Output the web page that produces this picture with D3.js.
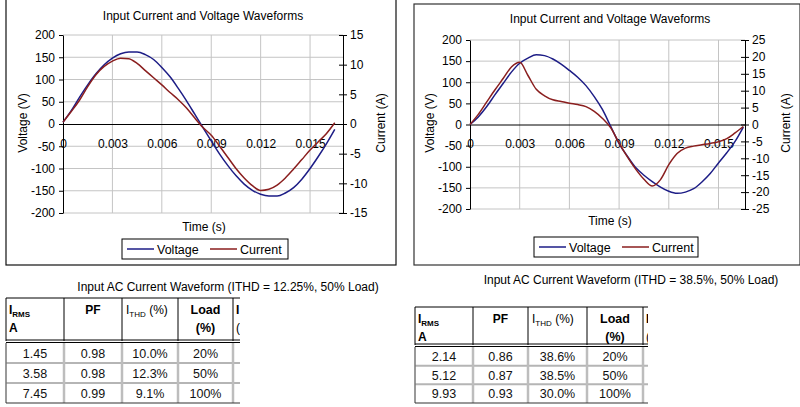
<!DOCTYPE html>
<html>
<head>
<meta charset="utf-8">
<script src="https://cdn.jsdelivr.net/npm/d3@7/dist/d3.min.js"></script>
<style>
  body { margin: 0; background: #fff; }
  svg { font-family: "Liberation Sans", Arial, sans-serif; }
  .tick text { font-size: 12px; fill: #000; }
</style>
</head>
<body>
<svg id="page" width="800" height="407"></svg>
<script>

const timeTicks = [0, 0.003, 0.006, 0.009, 0.012, 0.015]
const voltTicks = [-200, -150, -100, -50, 0, 50, 100, 150, 200]
const currTicksA = [-15, -10, -5, 0, 5, 10, 15]
const currTicksB = [-25, -20, -15, -10, -5, 0, 5, 10, 15, 20, 25]

const timeA = [0, 0.0005, 0.001, 0.0015, 0.002, 0.0025, 0.003, 0.0035, 0.004, 0.0045, 0.005, 0.0055,
  0.006, 0.0065, 0.007, 0.0075, 0.008, 0.0085, 0.009, 0.0095, 0.01, 0.0105, 0.011, 0.0115,
  0.012, 0.0125, 0.013, 0.0135, 0.014, 0.0145, 0.015, 0.0155, 0.016, 0.0165]
const voltageA = [4, 30, 60, 88, 113, 133, 148, 158, 162, 162, 156, 145,
  127, 106, 80, 52, 22, -8, -38, -67, -93, -116, -135, -149,
  -158, -162, -162, -155, -143, -124, -100, -73, -44, -12]
const currentA = [0.3, 2.1, 4.0, 6.3, 8.3, 9.7, 10.6, 11.1, 11.0, 10.2, 9.0, 7.8,
  6.6, 5.3, 4.1, 2.7, 1.0, -0.6, -1.9, -3.7, -5.6, -7.5, -9.1, -10.4,
  -11.2, -11.0, -10.3, -9.1, -7.6, -6.0, -4.4, -3.0, -1.6, 0.2]

const timeB = [0, 0.0005, 0.001, 0.0015, 0.002, 0.0025, 0.003, 0.0035, 0.004, 0.0045, 0.005, 0.0055,
  0.006, 0.0065, 0.007, 0.0075, 0.008, 0.0085, 0.009, 0.0095, 0.01, 0.0105, 0.011, 0.0115,
  0.012, 0.0125, 0.013, 0.0135, 0.014, 0.0145, 0.015, 0.0155, 0.016, 0.0165]
const voltageB = [0, 18, 42, 70, 97, 124, 145, 157, 165, 163, 155, 143,
  128, 112, 92, 66, 35, -5, -45, -75, -102, -120, -135, -148,
  -158, -163, -160, -152, -136, -116, -91, -67, -40, -6]
const currentB = [0, 3.0, 6.6, 10.2, 13.6, 17.0, 18.4, 14.5, 10.4, 8.5, 7.3, 6.8,
  6.3, 5.9, 5.3, 3.9, 1.8, -1.0, -5.5, -9.6, -13.2, -16.2, -18.2, -16.3,
  -11.9, -8.6, -7.0, -6.4, -6.0, -5.6, -5.1, -4.2, -2.5, -0.6]

const tableHead = ['PF', 'Load']
const rmsA = ['1.45', '3.58', '7.45']
const pfA = ['0.98', '0.98', '0.99']
const thdA = ['10.0%', '12.3%', '9.1%']
const loadA = ['20%', '50%', '100%']
const rmsB = ['2.14', '5.12', '9.93']
const pfB = ['0.86', '0.87', '0.93']
const thdB = ['38.6%', '38.5%', '30.0%']
const loadB = ['20%', '50%', '100%']

const blue = '#1d1d86'
const red = '#8a1e1e'
const svg = d3.select('#page')

function drawChart(o) {

    var g = svg.append('g')

    g.append('rect')
        .attr('x', o.frame[0]).attr('y', o.frame[1])
        .attr('width', o.frame[2] - o.frame[0]).attr('height', o.frame[3] - o.frame[1])
        .attr('fill', 'none').attr('stroke', o.frameColor).attr('stroke-width', 1.2)

    var x = d3.scaleLinear().domain([0, o.tMax]).range([o.left, o.right])
    var yV = d3.scaleLinear().domain([-200, 200]).range([o.bottom, o.top])
    var yI = d3.scaleLinear().domain([-o.iMax, o.iMax]).range([o.bottom, o.top])

    // gridlines
    g.selectAll('.hgrid').data(voltTicks.filter(d => d !== 0)).join('line')
        .attr('x1', o.left).attr('x2', o.right)
        .attr('y1', d => yV(d)).attr('y2', d => yV(d))
        .attr('stroke', '#c4c4c4').attr('stroke-width', 1)
    g.selectAll('.vgrid').data(timeTicks.filter(d => d > 0)).join('line')
        .attr('x1', d => x(d)).attr('x2', d => x(d))
        .attr('y1', o.top).attr('y2', o.bottom)
        .attr('stroke', '#c4c4c4').attr('stroke-width', 1)

    // axes (plain hyphen minus, as in the original)
    var plain = d => String(d)
    g.append('g').attr('transform', `translate(${o.left},0)`)
        .call(d3.axisLeft(yV).tickValues(voltTicks).tickFormat(plain).tickSize(4).tickSizeOuter(0).tickPadding(4))
    var ra = g.append('g').attr('transform', `translate(${o.right},0)`)
        .call(d3.axisRight(yI).tickValues(o.iTicks).tickFormat(plain).tickSize(4).tickSizeOuter(0).tickPadding(3))
    ra.selectAll('.tick line').attr('x1', -4)
    g.append('g').attr('transform', `translate(0,${yV(0)})`)
        .call(d3.axisBottom(x).tickValues(timeTicks).tickSize(0).tickSizeOuter(0).tickPadding(15)
            .tickFormat(d => d === 0 ? '0' : d3.format('.3f')(d)))
    g.selectAll('.domain').attr('stroke', '#000')
    g.selectAll('.tick line').attr('stroke', '#000')
    g.selectAll('.tick text').attr('font-family', null).attr('font-size', null)

    // series
    var lineV = d3.line().x((d, i) => x(o.time[i])).y(d => yV(d)).curve(d3.curveMonotoneX)
    var lineI = d3.line().x((d, i) => x(o.time[i])).y(d => yI(d)).curve(d3.curveMonotoneX)
    g.append('path').datum(o.voltage).attr('d', lineV)
        .attr('fill', 'none').attr('stroke', blue).attr('stroke-width', 1.5)
    g.append('path').datum(o.current).attr('d', lineI)
        .attr('fill', 'none').attr('stroke', red).attr('stroke-width', 1.5)

    // texts
    g.append('text').attr('x', o.titleX).attr('y', o.titleY).attr('text-anchor', 'middle')
        .attr('font-size', 12).text('Input Current and Voltage Waveforms')
    g.append('text').attr('x', o.timeX).attr('y', o.timeY).attr('text-anchor', 'middle')
        .attr('font-size', 12).text('Time (s)')
    g.append('text').attr('transform', `translate(${o.vLabelX},${o.labelY}) rotate(-90)`)
        .attr('text-anchor', 'middle').attr('font-size', 12).text('Voltage (V)')
    g.append('text').attr('transform', `translate(${o.iLabelX},${o.labelY}) rotate(-90)`)
        .attr('text-anchor', 'middle').attr('font-size', 12).text('Current (A)')

    // legend
    var lg = o.legend
    g.append('rect').attr('x', lg[0]).attr('y', lg[1]).attr('width', lg[2] - lg[0]).attr('height', lg[3] - lg[1])
        .attr('fill', '#fff').attr('stroke', '#000').attr('stroke-width', 1)
    var my = (lg[1] + lg[3]) / 2
    ;[['Voltage', blue, lg[0] + 5], ['Current', red, lg[0] + 88]].forEach(function(d) {
        g.append('line').attr('x1', d[2]).attr('x2', d[2] + 27).attr('y1', my).attr('y2', my)
            .attr('stroke', d[1]).attr('stroke-width', 1.5)
        g.append('text').attr('x', d[2] + 30).attr('y', my + 4.5).attr('font-size', 12.5).text(d[0])
    })

    // caption under the chart
    g.append('text').attr('x', o.capX).attr('y', o.capY).attr('text-anchor', 'middle')
        .attr('font-size', 12).text(o.caption)
}

function drawTable(o) {

    var g = svg.append('g')
    var clipId = 'clip' + o.cols[0]
    g.append('clipPath').attr('id', clipId).append('rect')
        .attr('x', o.cols[0] - 2).attr('y', o.top - 2).attr('width', o.clipX - o.cols[0] + 2).attr('height', 120)
    var t = g.append('g').attr('clip-path', `url(#${clipId})`)
    var cols = o.cols
    var mid = i => (cols[i] + cols[i + 1]) / 2

    // header
    t.append('line').attr('x1', cols[0]).attr('x2', cols[5]).attr('y1', o.top).attr('y2', o.top)
        .attr('stroke', '#000')
    cols.forEach(function(c) {
        t.append('line').attr('x1', c).attr('x2', c).attr('y1', o.top).attr('y2', o.headBottom)
            .attr('stroke', '#000')
    })
    t.append('line').attr('x1', cols[0]).attr('x2', cols[5]).attr('y1', o.headBottom - 1).attr('y2', o.headBottom - 1)
        .attr('stroke', '#000')
    t.append('line').attr('x1', cols[0]).attr('x2', cols[5]).attr('y1', o.headBottom + 1.5).attr('y2', o.headBottom + 1.5)
        .attr('stroke', '#000')

    var l1 = o.top + 16, l2 = o.top + 34
    var h = t.append('text').attr('x', cols[0] + 3).attr('y', l1).attr('font-size', 12).attr('font-weight', 'bold')
    h.append('tspan').text('I')
    h.append('tspan').attr('font-size', 8).attr('dy', 3).text('RMS')
    t.append('text').attr('x', cols[0] + 3).attr('y', l2).attr('font-size', 12).attr('font-weight', 'bold').text('A')
    t.append('text').attr('x', mid(1)).attr('y', l1).attr('text-anchor', 'middle')
        .attr('font-size', 12).attr('font-weight', 'bold').text(tableHead[0])
    var th = t.append('text').attr('x', cols[2] + 4).attr('y', l1).attr('font-size', 12)
    th.append('tspan').text('I')
    th.append('tspan').attr('font-size', 8).attr('dy', 3).text('THD')
    th.append('tspan').attr('dy', -3).text(' (%)')
    t.append('text').attr('x', mid(3)).attr('y', l1).attr('text-anchor', 'middle')
        .attr('font-size', 12.5).attr('font-weight', 'bold').text(tableHead[1])
    t.append('text').attr('x', mid(3)).attr('y', l2).attr('text-anchor', 'middle')
        .attr('font-size', 12.5).attr('font-weight', 'bold').text('(%)')
    t.append('text').attr('x', cols[4] + 3).attr('y', l1).attr('font-size', 12).attr('font-weight', 'bold').text('I')
    t.append('text').attr('x', cols[4] + 3).attr('y', l2).attr('font-size', 12).text('(')

    // body rows
    var rows = o.rms.map((d, i) => [d, o.pf[i], o.thd[i], o.load[i], ''])
    var y = d3.scaleLinear().domain([0, rows.length]).range([o.headBottom + 2, o.bottom])
    rows.forEach(function(r, i) {
        if (i > 0) t.append('line').attr('x1', cols[0]).attr('x2', cols[5]).attr('y1', y(i)).attr('y2', y(i))
            .attr('stroke', '#b5b5b5').attr('stroke-width', 2)
        r.forEach(function(v, j) {
            if (v) t.append('text').attr('x', mid(j)).attr('y', (y(i) + y(i + 1)) / 2 + 4.5)
                .attr('text-anchor', 'middle').attr('font-size', 12.5).attr('fill', '#111').text(v)
        })
    })
    cols.forEach(function(c, j) {
        t.append('line').attr('x1', c).attr('x2', c).attr('y1', o.headBottom + 2).attr('y2', o.bottom)
            .attr('stroke', j === 0 ? '#777' : '#bdbdbd').attr('stroke-width', j === 0 ? 1.5 : 2.5)
    })
    t.append('line').attr('x1', cols[0]).attr('x2', cols[5]).attr('y1', o.bottom).attr('y2', o.bottom)
        .attr('stroke', '#333').attr('stroke-width', 1.2)
}

drawChart({
    frame: [6, -2, 396, 265], frameColor: '#111',
    left: 63, right: 343, top: 35, bottom: 213, tMax: 0.017, iMax: 15, iTicks: currTicksA,
    time: timeA, voltage: voltageA, current: currentA,
    titleX: 203, titleY: 20, timeX: 204, timeY: 231, vLabelX: 27, iLabelX: 385, labelY: 123,
    legend: [122, 239, 288, 259],
    caption: 'Input AC Current Waveform (ITHD = 12.25%, 50% Load)', capX: 228, capY: 291
})

drawChart({
    frame: [414, 4, 800, 265], frameColor: '#333',
    left: 470, right: 745, top: 40, bottom: 209, tMax: 0.0166, iMax: 25, iTicks: currTicksB,
    time: timeB, voltage: voltageB, current: currentB,
    titleX: 610, titleY: 23, timeX: 610, timeY: 225, vLabelX: 434, iLabelX: 790, labelY: 123,
    legend: [534, 237, 698, 257],
    caption: 'Input AC Current Waveform (ITHD = 38.5%, 50% Load)', capX: 631, capY: 284
})

drawTable({ cols: [6, 64, 122, 178, 233, 290], clipX: 240, top: 298, headBottom: 341, bottom: 403,
    rms: rmsA, pf: pfA, thd: thdA, load: loadA })
drawTable({ cols: [415, 473, 528, 587, 643, 700], clipX: 648, top: 307, headBottom: 345, bottom: 403,
    rms: rmsB, pf: pfB, thd: thdB, load: loadB })

</script>
</body>
</html>
